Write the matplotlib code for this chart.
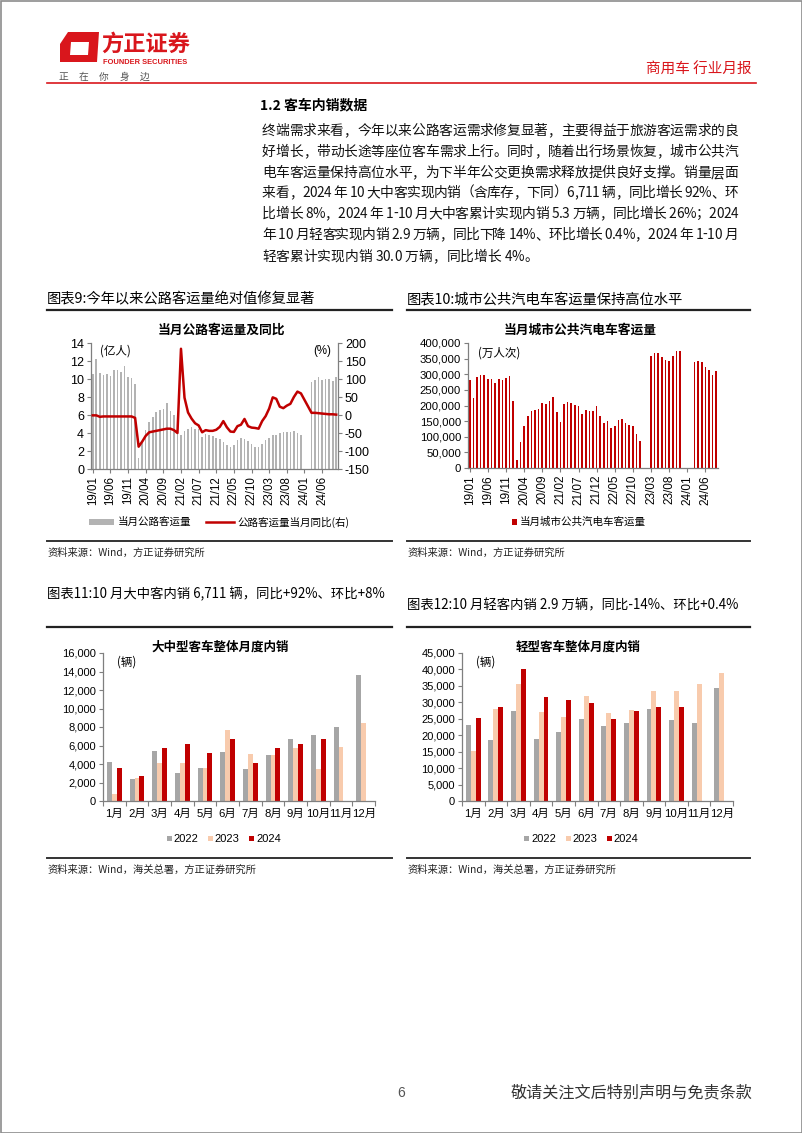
import numpy as np
import matplotlib
matplotlib.use('Agg')
import matplotlib.pyplot as plt
from matplotlib.patches import Rectangle, Polygon
from matplotlib.lines import Line2D

CJK = ['Noto Sans CJK SC', 'DejaVu Sans']
NUM = ['Liberation Sans', 'Noto Sans CJK SC']
plt.rcParams['font.family'] = CJK
plt.rcParams['axes.unicode_minus'] = False

# ---------------- data ----------------
nan = np.nan
month_ticks = ['19/01', '19/06', '19/11', '20/04', '20/09', '21/02', '21/07',
               '21/12', '22/05', '22/10', '23/03', '23/08', '24/01', '24/06']

# 公路客运量 (亿人), 2019/01 - 2024/10
road_volume = [10.6, 12.2, 10.7, 10.5, 10.6, 10.3, 11.0, 11.0, 10.8, 11.5, 10.2, 10.1,
               9.4, 1.2, 2.9, 4.3, 5.2, 5.8, 6.3, 6.6, 6.7, 7.3, 6.4, 6.0,
               4.4, 3.8, 4.2, 4.5, 4.7, 4.5, 4.4, 3.6, 3.9, 3.8, 3.7, 3.4,
               3.3, 3.0, 2.7, 2.5, 2.7, 3.2, 3.5, 3.3, 3.1, 2.8, 2.4, 2.4,
               2.8, 3.2, 3.5, 3.8, 3.8, 4.0, 4.1, 4.1, 4.1, 4.2, 4.0, 3.8,
               nan, nan, 9.7, 9.9, 10.2, 9.9, 10.0, 10.0, 9.8, 10.2]
# 公路客运量当月同比 (%)
road_yoy = [-1, -1, -5, -4, -4, -4, -4, -4, -4, -4, -4, -4,
            -8, -88, -74, -58, -48, -46, -44, -42, -40, -38, -38, -42,
            -50, 184, 48, 7, -10, -23, -29, -48, -42, -44, -44, -41,
            -33, -17, -34, -46, -47, -31, -27, -11, -31, -35, -36, -38,
            -17, -3, 18, 49, 45, 23, 19, 26, 31, 50, 65, 60,
            nan, nan, 6, 6, 5, 4, 3, 2, 2, 1]

# 城市公共汽电车客运量 (万人次), 2019/01 - 2024/09
bus_volume = [281000, 225000, 292000, 299000, 299000, 286000, 285000, 273000, 286000, 283000, 288000, 296000,
              215000, 27000, 84000, 135000, 167000, 183000, 186000, 188000, 208000, 205000, 213000, 228000,
              180000, 146000, 204000, 211000, 208000, 202000, 198000, 172000, 186000, 184000, 181000, 200000,
              165000, 145000, 150000, 128000, 133000, 153000, 156000, 144000, 139000, 134000, 110000, 86000,
              nan, nan, 359000, 368000, 369000, 355000, 345000, 344000, 359000, 373000, 373000,
              nan, nan, nan, 340000, 342000, 338000, 324000, 313000, 299000, 312000]

month_cn = ['1月', '2月', '3月', '4月', '5月', '6月', '7月', '8月', '9月', '10月', '11月', '12月']
years = ['2022', '2023', '2024']
large_bus_2022 = [4220, 2350, 5450, 3000, 3550, 5280, 3440, 4980, 6750, 7150, 7950, 13650]
large_bus_2023 = [720, 2490, 4080, 4100, 3610, 7690, 5050, 5000, 5700, 3495, 5880, 8480]
large_bus_2024 = [3610, 2710, 5740, 6210, 5240, 6750, 4120, 5700, 6214, 6711]
light_bus_2022 = [22970, 18500, 27340, 18700, 20940, 25000, 22760, 23580, 27850, 24490, 23680, 34250]
light_bus_2023 = [15140, 27840, 35670, 27130, 25610, 31810, 26830, 27540, 33540, 33333, 35470, 39020]
light_bus_2024 = [25300, 28450, 40240, 31610, 30790, 29780, 25000, 27440, 28550, 28666]

para_lines = [
    "终端需求来看，今年以来公路客运需求修复显著，主要得益于旅游客运需求的良",
    "好增长，带动长途等座位客车需求上行。同时，随着出行场景恢复，城市公共汽",
    "电车客运量保持高位水平，为下半年公交更换需求释放提供良好支撑。销量层面",
    "来看，2024 年 10 大中客实现内销（含库存，下同）6,711 辆，同比增长 92%、环",
    "比增长 8%，2024 年 1-10 月大中客累计实现内销 5.3 万辆，同比增长 26%；2024",
    "年 10 月轻客实现内销 2.9 万辆，同比下降 14%、环比增长 0.4%，2024 年 1-10 月",
    "轻客累计实现内销 30.0 万辆，同比增长 4%。",
]

# ---------------- figure ----------------
W, H = 802, 1133
fig = plt.figure(figsize=(W / 100, H / 100), dpi=100)
ov = fig.add_axes([0, 0, 1, 1])
ov.set_xlim(0, W)
ov.set_ylim(H, 0)
ov.axis('off')


def box(x0, y0, x1, y1):
    return [x0 / W, 1 - y1 / H, (x1 - x0) / W, (y1 - y0) / H]


RED = '#c00000'
HRED = '#d9161c'
AX = '#7f7f7f'

# page border
ov.add_patch(Rectangle((0.5, 0.5), W - 1, H - 1, fill=False, ec='#8c8c8c', lw=1.2))

# header logo
ov.add_patch(Polygon([(68, 32), (99, 32), (97, 62), (60, 62), (60, 44)], closed=True,
                     fc=HRED, ec='none'))
ov.add_patch(Polygon([(71, 42), (89, 42), (88, 55), (70, 55)], closed=True, fc='white', ec='none'))
ov.text(101, 44, '方正证券', fontsize=16, fontweight='bold', color=HRED, va='center', ha='left')
ov.text(103, 62, 'FOUNDER SECURITIES', fontsize=5.4, fontweight='bold', color=HRED,
        va='center', ha='left', family=NUM)
for i, ch in enumerate('正在你身边'):
    ov.text(63 + i * 20.5, 77, ch, fontsize=7, color='#555555', va='center', ha='center')
ov.text(752, 70, '商用车 行业月报', fontsize=10.5, color=HRED, va='center', ha='right')
ov.plot([47, 756], [82.5, 82.5], color=HRED, lw=1.2)

# section title
ov.text(260, 105, '1.2 客车内销数据', fontsize=10, fontweight='bold', va='center', ha='left')

# paragraph (justified)
renderer = fig.canvas.get_renderer()
_wcache = {}


def char_w(ch, fs):
    key = (ch, fs)
    if key not in _wcache:
        t1 = ov.text(0, 0, '|' + ch + '|', fontsize=fs, family=CJK)
        t2 = ov.text(0, 0, '||', fontsize=fs, family=CJK)
        w = t1.get_window_extent(renderer).width - t2.get_window_extent(renderer).width
        t1.remove()
        t2.remove()
        _wcache[key] = w
    return _wcache[key]


def put_line(line, x0, x1, y, fs, justify=True):
    ws = [char_w(c, fs) for c in line]
    total = sum(ws)
    extra = (x1 - x0 - total) / (len(line) - 1) if (justify and len(line) > 1) else 0
    x = x0
    for c, w in zip(line, ws):
        if c != ' ':
            ov.text(x, y, c, fontsize=fs, family=CJK, va='baseline', ha='left', color='#111111')
        x += w + extra


para_y = [135, 156, 177, 197, 218, 239, 261]
for k, (ln, yy) in enumerate(zip(para_lines, para_y)):
    put_line(ln, 262, 738, yy, 9.9, justify=(k < len(para_lines) - 1))

# ---------------- figure titles & rules ----------------
ov.text(47, 299, '图表9:今年以来公路客运量绝对值修复显著', fontsize=10.3, va='center', ha='left')
ov.text(407, 299, '图表10:城市公共汽电车客运量保持高位水平', fontsize=10.3, va='center', ha='left')
ov.plot([47, 392], [309.5, 309.5], color='#222222', lw=1.6)
ov.plot([407, 750], [309.5, 309.5], color='#222222', lw=1.6)
ov.plot([47, 392], [541, 541], color='#333333', lw=1.4)
ov.plot([407, 750], [541, 541], color='#333333', lw=1.4)
ov.text(47, 553, '资料来源：Wind，方正证券研究所', fontsize=7.4, va='center', ha='left', color='#222222')
ov.text(407, 553, '资料来源：Wind，方正证券研究所', fontsize=7.4, va='center', ha='left', color='#222222')

ov.text(47, 594, '图表11:10 月大中客内销 6,711 辆，同比+92%、环比+8%', fontsize=9.6, va='center', ha='left')
ov.text(407, 605, '图表12:10 月轻客内销 2.9 万辆，同比-14%、环比+0.4%', fontsize=9.6, va='center', ha='left')
ov.plot([47, 392], [626.5, 626.5], color='#222222', lw=1.6)
ov.plot([407, 750], [626.5, 626.5], color='#222222', lw=1.6)
ov.plot([47, 392], [858, 858], color='#333333', lw=1.4)
ov.plot([407, 750], [858, 858], color='#333333', lw=1.4)
ov.text(47, 870, '资料来源：Wind，海关总署，方正证券研究所', fontsize=7.4, va='center', ha='left', color='#222222')
ov.text(407, 870, '资料来源：Wind，海关总署，方正证券研究所', fontsize=7.4, va='center', ha='left', color='#222222')

# footer
ov.text(401, 1093, '6', fontsize=10, va='center', ha='center', color='#555555', family=NUM)
ov.text(752, 1093, '敬请关注文后特别声明与免责条款', fontsize=11.6, va='center', ha='right', color='#333333')


def style_axis(ax, left=True, right=False, size=7.8):
    ax.spines['top'].set_visible(False)
    ax.spines['right'].set_visible(right)
    ax.spines['left'].set_visible(left)
    for s in ['left', 'right', 'bottom']:
        ax.spines[s].set_color(AX)
        ax.spines[s].set_linewidth(0.9)
    ax.patch.set_alpha(0)
    ax.tick_params(colors=AX, labelcolor='black', length=3, width=0.8, labelsize=size, pad=2)


# ---------------- chart 9 ----------------
ov.text(221, 330, '当月公路客运量及同比', fontsize=9.2, fontweight='bold', va='center', ha='center')
ax9 = fig.add_axes(box(91, 343, 338, 469))
x9 = np.arange(len(road_volume))
ax9.bar(x9, road_volume, width=0.45, color='#b3b3b3', zorder=1)
ax9.set_xlim(-0.5, len(x9) - 0.5)
ax9.set_ylim(0, 14)
ax9.set_yticks(range(0, 15, 2))
style_axis(ax9, size=9)
ax9.set_xticks(np.arange(len(month_ticks)) * 5)
ax9.set_xticklabels(month_ticks, rotation=90, family=NUM, fontsize=8.3)
for lb in ax9.get_yticklabels():
    lb.set_family(NUM)
ax9r = ax9.twinx()
yoy = np.array(road_yoy, dtype=float)
m = ~np.isnan(yoy)
ax9r.plot(x9[m], yoy[m], color=RED, lw=1.8, solid_joinstyle='round')
ax9r.set_ylim(-150, 200)
ax9r.set_yticks(range(-150, 201, 50))
style_axis(ax9r, left=False, right=True, size=9)
ax9r.spines['bottom'].set_visible(False)
for lb in ax9r.get_yticklabels():
    lb.set_family(NUM)
ax9.text(0.035, 0.94, '(亿人)', transform=ax9.transAxes, fontsize=8.3, va='center', ha='left')
ax9.text(0.9, 0.94, '(%)', transform=ax9.transAxes, fontsize=8.3, va='center', ha='left', family=NUM)

# legend 9
ov.add_patch(Rectangle((89, 519), 25, 5.5, fc='#b3b3b3', ec='none'))
ov.text(118, 522, '当月公路客运量', fontsize=7.6, va='center', ha='left')
ov.plot([206, 234], [522, 522], color=RED, lw=1.8)
ov.text(237, 522, '公路客运量当月同比(右)', fontsize=7.6, va='center', ha='left')

# ---------------- chart 10 ----------------
ov.text(580, 330, '当月城市公共汽电车客运量', fontsize=9.2, fontweight='bold', va='center', ha='center')
ax10 = fig.add_axes(box(468, 343, 718, 468))
x10 = np.arange(len(bus_volume))
ax10.bar(x10, bus_volume, width=0.45, color=RED, zorder=1)
ax10.set_xlim(-0.5, len(x10) - 0.5)
ax10.set_ylim(0, 400000)
yt10 = list(range(0, 400001, 50000))
ax10.set_yticks(yt10)
ax10.set_yticklabels([f'{v:,}' for v in yt10], family=NUM)
style_axis(ax10, size=8.2)
ax10.set_xticks(np.arange(len(month_ticks)) * 5)
ax10.set_xticklabels(month_ticks, rotation=90, family=NUM, fontsize=8.5)
ax10.text(0.04, 0.92, '(万人次)', transform=ax10.transAxes, fontsize=8.3, va='center', ha='left')
ov.add_patch(Rectangle((512, 519), 5, 5.5, fc=RED, ec='none'))
ov.text(520, 522, '当月城市公共汽电车客运量', fontsize=7.6, va='center', ha='left')


# ---------------- charts 11 & 12 ----------------
def group_chart(rect, title_xy, series, ymax, ystep, legend_x):
    ov.text(title_xy[0], title_xy[1], title_xy[2], fontsize=9, fontweight='bold', va='center', ha='center')
    ax = fig.add_axes(box(*rect))
    xm = np.arange(len(month_cn))
    cols = ['#a6a6a6', '#f8cbad', RED]
    bw = 0.22
    for k, (vals, c) in enumerate(zip(series, cols)):
        ax.bar(xm[:len(vals)] + (k - 1) * bw, vals, width=bw, color=c, zorder=1)
    ax.set_xlim(-0.5, len(month_cn) - 0.5)
    ax.set_ylim(0, ymax)
    yt = list(range(0, ymax + 1, ystep))
    ax.set_yticks(yt)
    ax.set_yticklabels([f'{v:,}' for v in yt], family=NUM)
    style_axis(ax, size=8)
    ax.set_xticks(xm)
    ax.set_xticklabels(month_cn, family=NUM, fontsize=8.2)
    ax.tick_params(axis='x', which='major', length=0, pad=6)
    ax.set_xticks(np.arange(len(month_cn) + 1) - 0.5, minor=True)
    ax.tick_params(axis='x', which='minor', length=3.5, color=AX, width=0.8)
    ax.text(0.05, 0.94, '(辆)', transform=ax.transAxes, fontsize=8.3, va='center', ha='left')
    for (sx, tx), c, lab in zip(legend_x, cols, years):
        ov.add_patch(Rectangle((sx, 835.5), 5, 5.5, fc=c, ec='none'))
        ov.text(tx, 838.5, lab, fontsize=8, va='center', ha='left', family=NUM)
    return ax


group_chart((103, 653, 375, 801), (220, 647, '大中型客车整体月度内销'),
            [large_bus_2022, large_bus_2023, large_bus_2024], 16000, 2000,
            [(167, 173), (208, 214), (249, 256)])
group_chart((462, 653, 733, 801), (578, 647, '轻型客车整体月度内销'),
            [light_bus_2022, light_bus_2023, light_bus_2024], 45000, 5000,
            [(524, 531), (566, 572), (607, 613)])

fig.savefig('out.png', dpi=100)
